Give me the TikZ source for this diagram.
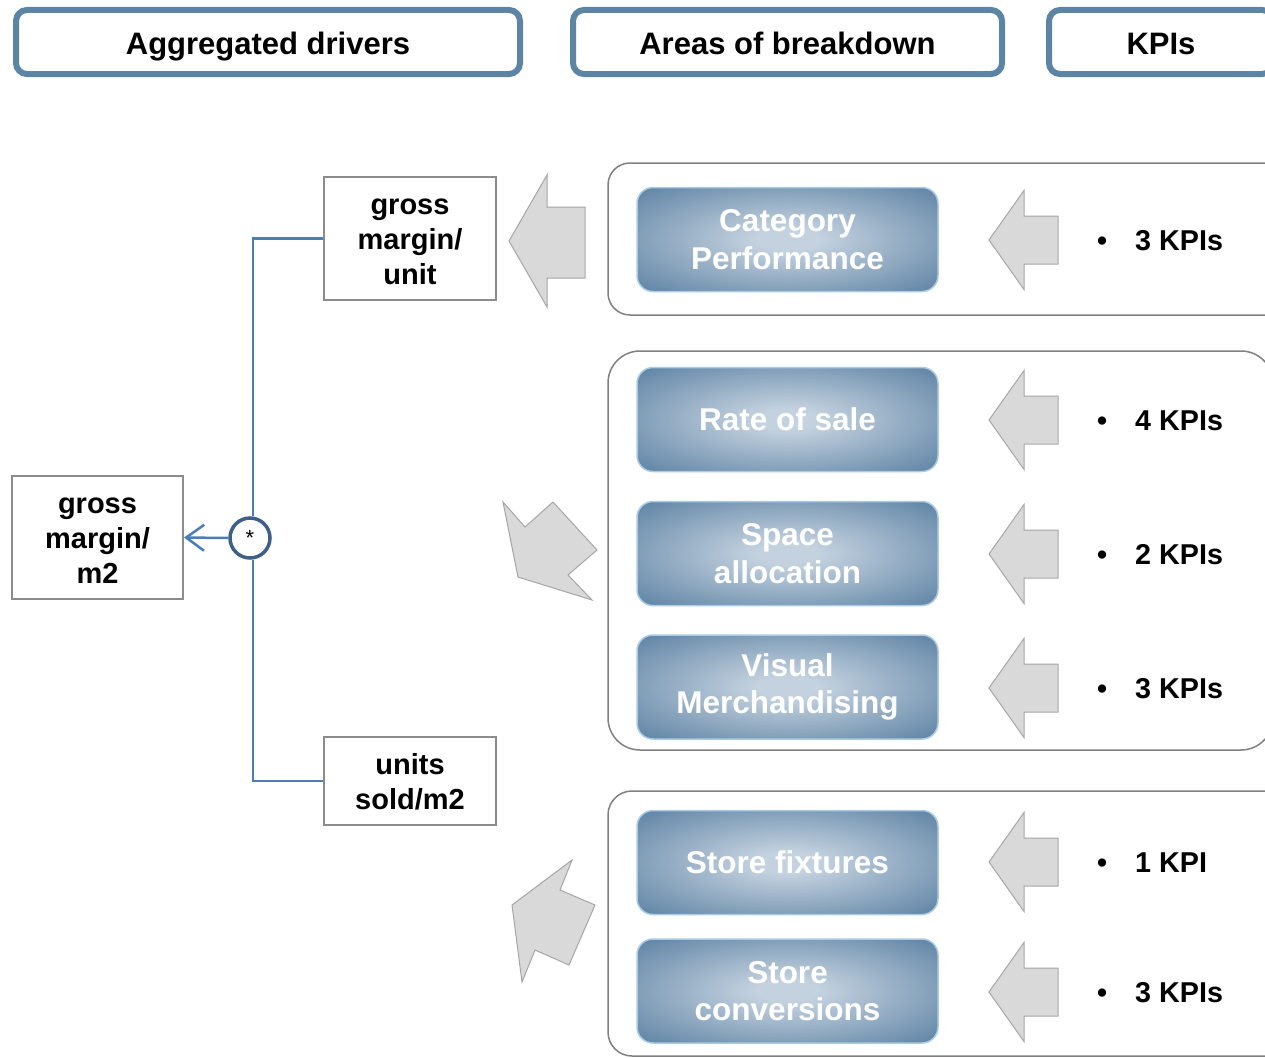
\documentclass[tikz,border=0pt]{standalone}
\usepackage{fontspec}
\setmainfont{Liberation Sans}
\usetikzlibrary{arrows.meta}
\definecolor{hdr}{HTML}{5B84A5}
\definecolor{bxin}{HTML}{C4D2DF}
\definecolor{bxout}{HTML}{557C9F}
\definecolor{bxline}{HTML}{A9CBE6}
\definecolor{conn}{HTML}{4A7EBB}
\definecolor{circc}{HTML}{3E5F87}
\definecolor{grp}{HTML}{808080}
\definecolor{lbox}{HTML}{8C8C8C}
\definecolor{arrfill}{HTML}{D9D9D9}
\definecolor{arrline}{HTML}{A6A6A6}
\pgfdeclareradialshading{bluegrad}{\pgfpoint{0bp}{0bp}}{color(0bp)=(bxin); color(5bp)=(bxin); color(38bp)=(bxout); color(50bp)=(bxout)}
\newcommand{\capstrut}{\rule{0pt}{0.73em}}
\tikzset{
  hdrbox/.style={draw=hdr, line width=6pt, rounded corners=11pt, minimum height=64pt,
    fill=white, inner sep=0pt, text height=29pt, text depth=3pt,
    font=\bfseries\fontsize{31}{37}\selectfont},
  leftbox/.style={draw=lbox, line width=2pt, fill=white, inner sep=0pt, align=center,
    text depth=0pt, font=\bfseries\fontsize{29}{35}\selectfont},
  bluebox/.style={rounded corners=16pt, shading=bluegrad, draw=bxline, line width=1.5pt,
    minimum width=301pt, minimum height=104pt, inner sep=0pt, text=white, align=center,
    font=\bfseries\fontsize{31.5}{37.5}\selectfont},
  grpbox/.style={draw=grp, line width=1.5pt},
  blockarrow/.style={fill=arrfill, draw=arrline, line width=1pt, line join=miter},
  kpitext/.style={anchor=west, inner sep=0pt, font=\bfseries\fontsize{28.7}{34}\selectfont},
  conn/.style={draw=conn, line width=2.5pt},
}
\begin{document}
\begin{tikzpicture}[x=1pt,y=-1pt]
\path[use as bounding box] (0,0) rectangle (1265,1057);
\clip (0,0) rectangle (1265,1057);
\fill[white] (0,0) rectangle (1265,1057);

% headers
\node[hdrbox, minimum width=504pt] (h1) at (268,42) {Aggregated drivers};
\node[hdrbox, minimum width=429pt] (h2) at (787.5,42) {Areas of breakdown};
\node[hdrbox, minimum width=224pt] (h3) at (1161,42) {KPIs};

% group frames
\draw[grpbox, rounded corners=22pt] (608,163) rectangle (1292,315);
\draw[grpbox, rounded corners=32pt] (608,351) rectangle (1273,750);
\draw[grpbox, rounded corners=24pt] (608,791) rectangle (1292,1056);

% blue boxes
\node[bluebox] (cp)  at (787.5,239.5) {Category\\Performance};
\node[bluebox] (ros) at (787.5,419.5) {Rate of sale};
\node[bluebox] (sa)  at (787.5,553.5) {Space\\allocation};
\node[bluebox] (vm)  at (787.5,687)   {Visual\\Merchandising};
\node[bluebox] (sf)  at (787.5,862.5) {Store fixtures};
\node[bluebox] (sc)  at (787.5,991)   {Store\\conversions};

% KPI arrows
\foreach \yy in {240,420,554,688,862,992}{
  \draw[blockarrow] (989,\yy) -- (1024,{\yy-49.5}) -- (1024,{\yy-24}) -- (1058,{\yy-24})
    -- (1058,{\yy+24}) -- (1024,{\yy+24}) -- (1024,{\yy+49.5}) -- cycle;
}

% KPI texts
\node[kpitext] (k1) at (1097,240.5) {\textbullet\hspace{28pt}3 KPIs};
\node[kpitext] (k2) at (1097,420.5) {\textbullet\hspace{28pt}4 KPIs};
\node[kpitext] (k3) at (1097,554.5) {\textbullet\hspace{28pt}2 KPIs};
\node[kpitext] (k4) at (1097,688.5) {\textbullet\hspace{28pt}3 KPIs};
\node[kpitext] (k5) at (1097,862.5) {\textbullet\hspace{28pt}1 KPI};
\node[kpitext] (k6) at (1097,992.5) {\textbullet\hspace{28pt}3 KPIs};

% big arrows
\draw[blockarrow] (509,241) -- (547,175) -- (547,207) -- (585,207) -- (585,278)
  -- (547,278) -- (547,307) -- cycle;
\draw[blockarrow] (518,577) -- (503,502) -- (525,527) -- (553,502) -- (597,550)
  -- (568,575) -- (592,600) -- cycle;
\draw[blockarrow] (572,860) -- (560,890) -- (595,905) -- (569,965) -- (535,950)
  -- (522,982) -- (512,905) -- cycle;

% left side
\node[leftbox, minimum width=171pt, minimum height=123pt] (gm2) at (97.5,537.5) {\capstrut gross\\margin/\\m2};
\node[leftbox, minimum width=172pt, minimum height=123pt] (gmu) at (410,238.5) {\capstrut gross\\margin/\\unit};
\node[leftbox, minimum width=172pt, minimum height=88pt] (usm) at (410,781) {units\\sold/m2};

\node[circle, draw=circc, line width=3.5pt, minimum size=40pt, inner sep=0pt, fill=white,
  font=\fontsize{22}{24}\selectfont] (mul) at (250,538) {*};

\draw[conn] (gmu.west) -| ([xshift=3pt]mul.north);
\draw[conn] (usm.west) -| ([xshift=3pt]mul.south);
\draw[conn, -{Straight Barb[length=18pt,width=26pt]}] (mul.west) -- (gm2.east);
\end{tikzpicture}
\end{document}
